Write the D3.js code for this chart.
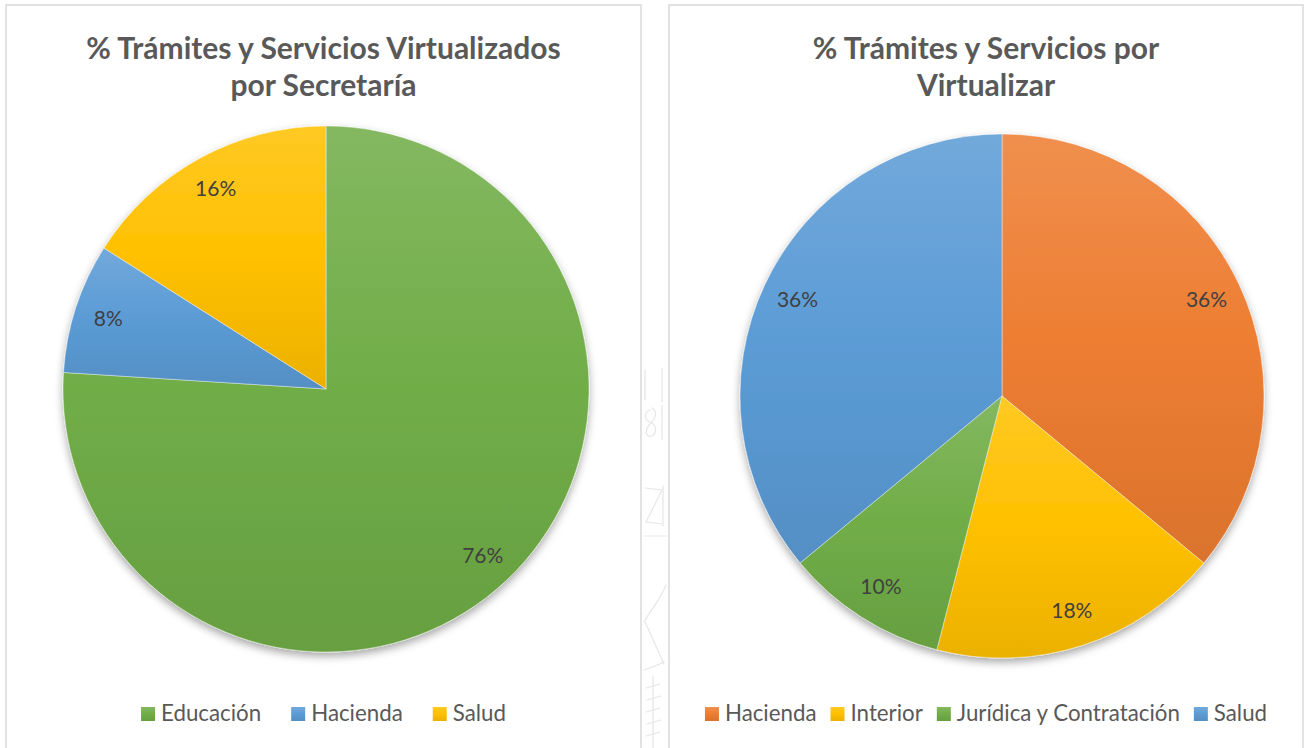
<!DOCTYPE html>
<html>
<head>
<meta charset="utf-8">
<script src="https://cdn.jsdelivr.net/npm/d3@7"></script>
<style>
  html, body { margin: 0; padding: 0; background: #ffffff; }
  svg { display: block; }
  text { font-family: Lato, "Open Sans", sans-serif; }
</style>
</head>
<body>
<svg id="chart" width="1309" height="748"></svg>
<script>
// Virtualized services share, by department
const leftCategories = ["Educación", "Hacienda", "Salud"];
const leftValues = [76, 8, 16];
const leftColors = ["#70ad47", "#5b9bd5", "#ffc000"];
const leftTitle = ["% Trámites y Servicios Virtualizados", "por Secretaría"];

// Services still to be virtualized, by department
const rightCategories = ["Hacienda", "Interior", "Jurídica y Contratación", "Salud"];
const rightValues = [36, 18, 10, 36];
const rightColors = ["#ed7d31", "#ffc000", "#70ad47", "#5b9bd5"];
const rightTitle = ["% Trámites y Servicios por", "Virtualizar"];

const svg = d3.select("#chart");
const defs = svg.append("defs");

// soft shadow under each pie
const shadow = defs.append("filter").attr("id", "pieShadow")
  .attr("x", "-10%").attr("y", "-10%").attr("width", "120%").attr("height", "125%");
shadow.append("feDropShadow")
  .attr("dx", 0).attr("dy", 4).attr("stdDeviation", 4)
  .attr("flood-color", "#000").attr("flood-opacity", 0.35);

// vertical light-to-dark gradient per base colour
function gradientFor(color) {
  const id = "g" + color.replace("#", "");
  if (defs.select("#" + id).empty()) {
    const g = defs.append("linearGradient").attr("id", id)
      .attr("x1", 0).attr("y1", 0).attr("x2", 0).attr("y2", 1);
    g.append("stop").attr("offset", "0%").attr("stop-color", d3.interpolateRgb(color, "#ffffff")(0.14));
    g.append("stop").attr("offset", "50%").attr("stop-color", color);
    g.append("stop").attr("offset", "100%").attr("stop-color", d3.interpolateRgb(color, "#000000")(0.08));
  }
  return "url(#" + id + ")";
}

function drawPanel(opts) {
  const { x0, x1, top, title, categories, values, colors, cx, cy, r, labelR, legendItems } = opts;
  const panel = svg.append("g");

  // panel frame (open at the bottom edge of the view)
  panel.append("path")
    .attr("d", `M${x0},748 V${top} H${x1} V748`)
    .attr("fill", "none").attr("stroke", "#d9d9d9").attr("stroke-width", 1.5);

  const mid = (x0 + x1) / 2;
  panel.append("text")
    .attr("x", mid).attr("y", 59)
    .attr("text-anchor", "middle")
    .attr("font-size", 30).attr("font-weight", "bold").attr("fill", "#595959")
    .selectAll("tspan").data(title).join("tspan")
    .attr("x", mid).attr("dy", (d, i) => i === 0 ? 0 : 37)
    .text(d => d);

  const pie = d3.pie().sort(null).value(d => d)(values);
  const arc = d3.arc().innerRadius(0).outerRadius(r);
  const labelArc = d3.arc().innerRadius(labelR).outerRadius(labelR);

  const g = panel.append("g").attr("transform", `translate(${cx},${cy})`);
  const slices = g.append("g").attr("filter", "url(#pieShadow)");
  slices.selectAll("path").data(pie).join("path")
    .attr("d", arc)
    .attr("fill", (d, i) => gradientFor(colors[i]))
    .attr("stroke", "#ffffff").attr("stroke-opacity", 0.5).attr("stroke-width", 0.8);

  g.selectAll("text.lbl").data(pie).join("text")
    .attr("class", "lbl")
    .attr("transform", d => `translate(${labelArc.centroid(d)})`)
    .attr("text-anchor", "middle").attr("dy", "0.35em")
    .attr("font-size", 21).attr("fill", "#404040")
    .text(d => d.data + "%");

  // legend, laid out from measured text widths
  const lg = panel.append("g");
  const items = lg.selectAll("g").data(categories).join("g");
  items.append("rect").attr("width", 14).attr("height", 14).attr("y", -14)
    .attr("fill", (d, i) => gradientFor(colors[i]));
  items.append("text").attr("x", 20).attr("y", 0).attr("dy", "-0.02em")
    .attr("font-size", 22.3).attr("fill", "#595959").text(d => d);
  let xPos = 0;
  items.each(function (d, i) {
    const w = d3.select(this).select("text").node().getComputedTextLength();
    d3.select(this).attr("transform", `translate(${xPos},0)`);
    xPos += 20 + w + legendItems.gap;
  });
  const total = xPos - legendItems.gap;
  lg.attr("transform", `translate(${mid - total / 2},${legendItems.y})`);
}

drawPanel({
  x0: 6, x1: 641, top: 5, title: leftTitle,
  categories: leftCategories, values: leftValues, colors: leftColors,
  cx: 326, cy: 389, r: 263, labelR: 229,
  legendItems: { y: 721, gap: 30 }
});

drawPanel({
  x0: 669, x1: 1303, top: 5, title: rightTitle,
  categories: rightCategories, values: rightValues, colors: rightColors,
  cx: 1002, cy: 396, r: 262, labelR: 226,
  legendItems: { y: 721, gap: 14 }
});

// faint pencil marks in the gutter between the two panels
const gutter = svg.append("g")
  .attr("fill", "none").attr("stroke", "#e0e0e0").attr("stroke-width", 1.2)
  .attr("stroke-linecap", "round").attr("opacity", 0.8);
[
  "M645,370 V400", "M662,368 V402",
  "M650,410 C644,412 644,420 650,422 C656,424 658,432 652,436 C646,438 644,430 650,424 C656,418 658,412 652,408",
  "M662,405 V440",
  "M645,488 L662,490 L646,522 L662,524", "M663,486 V526",
  "M644,536 H667",
  "M666,585 C660,600 652,608 644,622", "M645,622 L664,664", "M664,662 C656,666 650,668 644,670",
  "M653,676 V748", "M646,688 L660,684", "M647,700 L661,696", "M646,712 L660,708",
  "M647,724 L661,720", "M646,736 L660,732"
].forEach(d => gutter.append("path").attr("d", d));
</script>
</body>
</html>
